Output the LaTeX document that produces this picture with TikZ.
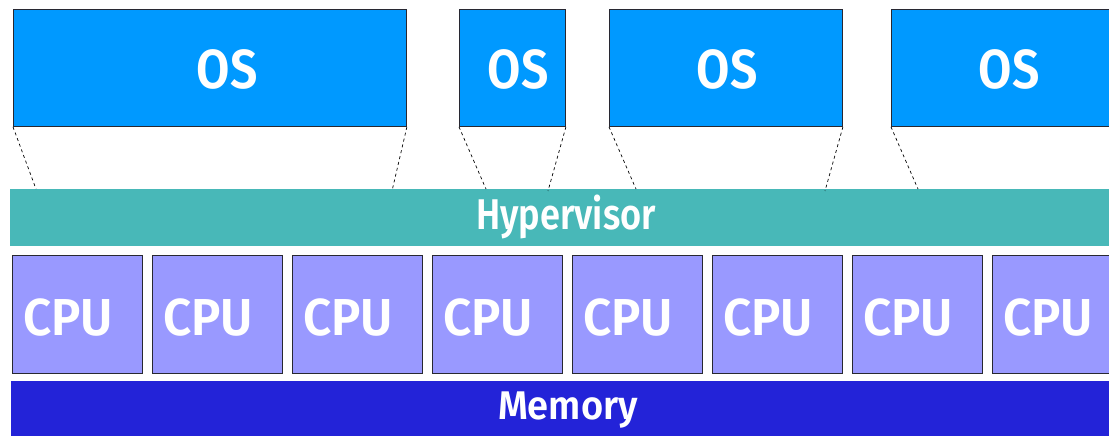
\documentclass[tikz,border=0pt]{standalone}
\usepackage{fontspec}
\setmainfont{Fira Sans}[BoldFont={Fira Sans SemiBold}]
\definecolor{osblue}{RGB}{0,153,255}
\definecolor{hvteal}{RGB}{72,184,184}
\definecolor{cpuviolet}{RGB}{153,153,255}
\definecolor{memblue}{RGB}{35,35,216}
\definecolor{edgegray}{RGB}{40,40,50}
\tikzset{
  box/.style={draw=edgegray, line width=0.9pt, inner sep=0pt, anchor=north west},
  osbox/.style={box, fill=osblue, minimum height=117pt},
  cpubox/.style={box, fill=cpuviolet, minimum width=130pt, minimum height=118pt},
  bar/.style={inner sep=0pt, anchor=north west, draw=none},
  lbl/.style={text=white, inner sep=0pt, transform shape},
  oslbl/.style={lbl, xscale=0.88, font=\fontsize{55}{60}\selectfont\bfseries},
  cpulbl/.style={lbl, xscale=0.95, font=\fontsize{52}{56}\selectfont\bfseries},
  link/.style={black, line width=0.7pt, dash pattern=on 3pt off 3pt}
}
\begin{document}
\begin{tikzpicture}[x=1pt, y=-1pt]
\useasboundingbox (0,0) rectangle (1109,436);
\clip (0,0) rectangle (1109,436);

% guest operating systems
\node[osbox, minimum width=393pt] (os1) at (13,9) {};
\node[osbox, minimum width=106pt] (os2) at (459,9) {};
\node[osbox, minimum width=233pt] (os3) at (609,9) {};
\node[osbox, minimum width=236pt] (os4) at (891,9) {};
\node[oslbl] (t1) at (227,69) {OS};
\node[oslbl] (t2) at (518,69) {OS};
\node[oslbl] (t3) at (727,69) {OS};
\node[oslbl] (t4) at (1009,69) {OS};

% hypervisor layer
\node[bar, fill=hvteal, minimum width=1112pt, minimum height=57pt] (hv) at (10,189) {};
\node[lbl, xscale=0.84, font=\fontsize{43}{48}\selectfont\bfseries] (hvt) at (566,217) {Hypervisor};

% points where each guest maps onto the hypervisor
\coordinate (a1) at (36,189);  \coordinate (b1) at (392,191);
\coordinate (a2) at (486,189); \coordinate (b2) at (548,191);
\coordinate (a3) at (636,189); \coordinate (b3) at (825,191);
\coordinate (a4) at (918,189); \coordinate (b4) at (1110,190);
\draw[link] (os1.south west) -- (a1);
\draw[link] (os1.south east) -- (b1);
\draw[link] (os2.south west) -- (a2);
\draw[link] (os2.south east) -- (b2);
\draw[link] (os3.south west) -- (a3);
\draw[link] (os3.south east) -- (b3);
\draw[link] (os4.south west) -- (a4);
\draw[link] (os4.south east) -- (b4);

% processors
\foreach \i in {0,...,7} {
  \node[cpubox] (cpu\i) at (12+140*\i,255) {};
  \node[cpulbl] (cput\i) at (68+140*\i,318) {CPU};
}

% memory layer
\node[bar, fill=memblue, minimum width=1112pt, minimum height=60pt] (mem) at (11,381) {};
\node[lbl, xscale=0.95, font=\fontsize{40}{44}\selectfont\bfseries] (memt) at (568,410) {Memory};
\end{tikzpicture}
\end{document}
